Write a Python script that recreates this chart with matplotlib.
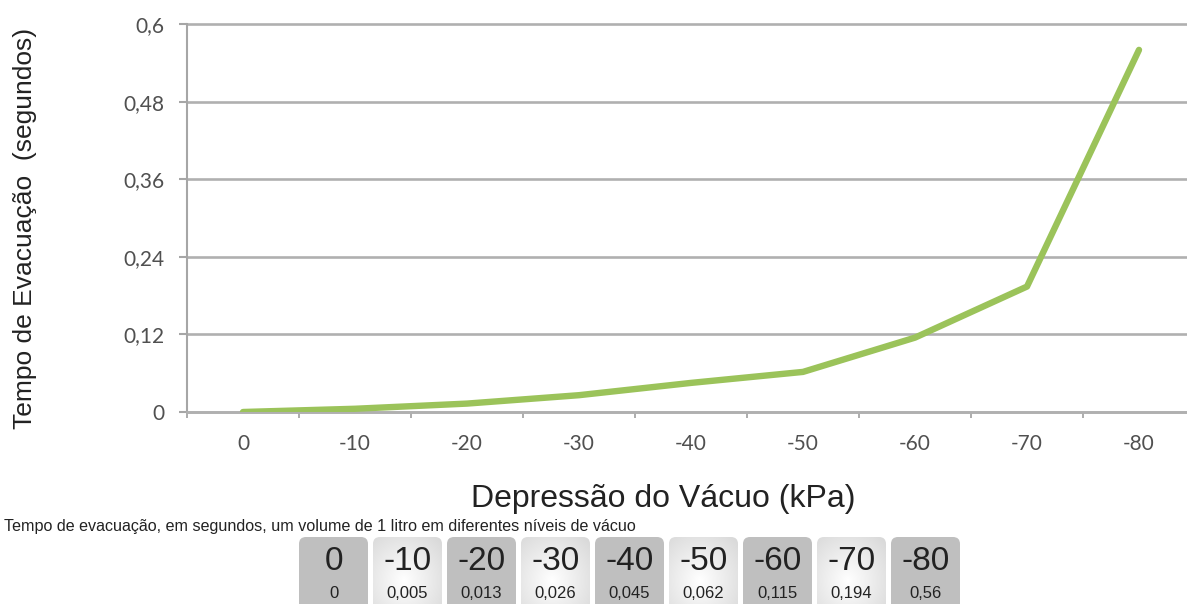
import numpy as np
import matplotlib
matplotlib.use("Agg")
import matplotlib.pyplot as plt
from matplotlib.patches import FancyBboxPatch

# data
pressures = [0, -10, -20, -30, -40, -50, -60, -70, -80]
times = [0, 0.005, 0.013, 0.026, 0.045, 0.062, 0.115, 0.194, 0.56]
yticks = [0, 0.12, 0.24, 0.36, 0.48, 0.6]

ylabel = "Tempo de Evacuação  (segundos)"
xlabel = "Depressão do Vácuo (kPa)"
caption = "Tempo de evacuação, em segundos, um volume de 1 litro em diferentes níveis de vácuo"

def fmt(v):
    return ("%g" % v).replace(".", ",")

W, H = 1187, 604
fig = plt.figure(figsize=(W / 100, H / 100), dpi=100)

# main chart area (right side runs past the figure edge like the original)
ax = fig.add_axes([187 / W, (H - 412) / H, 1008 / W, 388 / H])
x = np.arange(len(pressures))
ax.plot(x, times, color="#9bc35a", lw=4.6, solid_capstyle="round",
        solid_joinstyle="round", zorder=3)
ax.set_xlim(-0.5, len(pressures) - 0.5)
ax.set_ylim(0, 0.6)

tick_font = dict(family=["Lato", "DejaVu Sans"], size=15, color="#505050")
ax.set_yticks(yticks)
ax.set_yticklabels([fmt(v) for v in yticks], **tick_font)
ax.set_xticks(x)
ax.set_xticklabels([fmt(p) for p in pressures], **tick_font)
ax.set_xticks(np.arange(-0.5, len(pressures), 1), minor=True)

ax.yaxis.grid(True, color="#b0b0b0", lw=1.9)
for gl in ax.get_ygridlines():
    gl.set_clip_on(False)
ax.set_axisbelow(True)

ax.tick_params(axis="y", length=6, width=1.5, color="#a6a6a6", pad=10)
ax.tick_params(axis="x", which="major", length=0, pad=16)
ax.tick_params(axis="x", which="minor", length=4, width=1.3, color="#a6a6a6")
for s in ["top", "right"]:
    ax.spines[s].set_visible(False)
ax.spines["left"].set_color("#a6a6a6")
ax.spines["left"].set_linewidth(1.5)
ax.spines["bottom"].set_color("#b0b0b0")
ax.spines["bottom"].set_linewidth(1.9)

# labels
fig.text(25 / W, 1 - 228 / H, ylabel, rotation=90, ha="center", va="center",
         family="Liberation Sans", size=19, color="#222222")
fig.text(663 / W, 1 - 499 / H, xlabel, ha="center", va="center",
         family="Liberation Sans", size=23, color="#222222")
fig.text(4 / W, 1 - 526 / H, caption, ha="left", va="center",
         family="Liberation Sans", size=11.6, color="#222222")

# value boxes under the chart
bx = fig.add_axes([0, 0, 1, 1], zorder=-1)
bx.axis("off")
box_w, box_step, box_x0, box_top, box_bot = 69, 74, 299, 537, 616

yy, xx = np.mgrid[0:1:80j, 0:1:70j]
r = np.sqrt(((xx - 0.45) / 0.75) ** 2 + ((yy - 0.55) / 0.75) ** 2)
t = np.clip(r, 0, 1)[..., None]
grad = (1 - t) * np.array([1.0, 1.0, 1.0]) + t * np.array([0.85, 0.85, 0.85])

for i, (p, v) in enumerate(zip(pressures, times)):
    x0 = box_x0 + i * box_step
    dark = i % 2 == 0
    patch = FancyBboxPatch((x0, box_top), box_w, box_bot - box_top,
                           boxstyle="round,pad=0,rounding_size=7",
                           facecolor="#bfbfbf" if dark else "none",
                           edgecolor="none")
    bx.add_patch(patch)
    if not dark:
        im = bx.imshow(grad, extent=(x0, x0 + box_w, box_bot, box_top),
                       origin="upper", aspect="auto", interpolation="bilinear")
        im.set_clip_path(patch)
    cx = x0 + box_w / 2
    bx.text(cx, 561, fmt(p), ha="center", va="center",
            family="Liberation Sans", size=24, color="#222222")
    bx.text(cx, 593, fmt(v), ha="center", va="center",
            family="Liberation Sans", size=12, color="#222222")

bx.set_xlim(0, W)
bx.set_ylim(H, 0)

fig.savefig("out.png", dpi=100)
